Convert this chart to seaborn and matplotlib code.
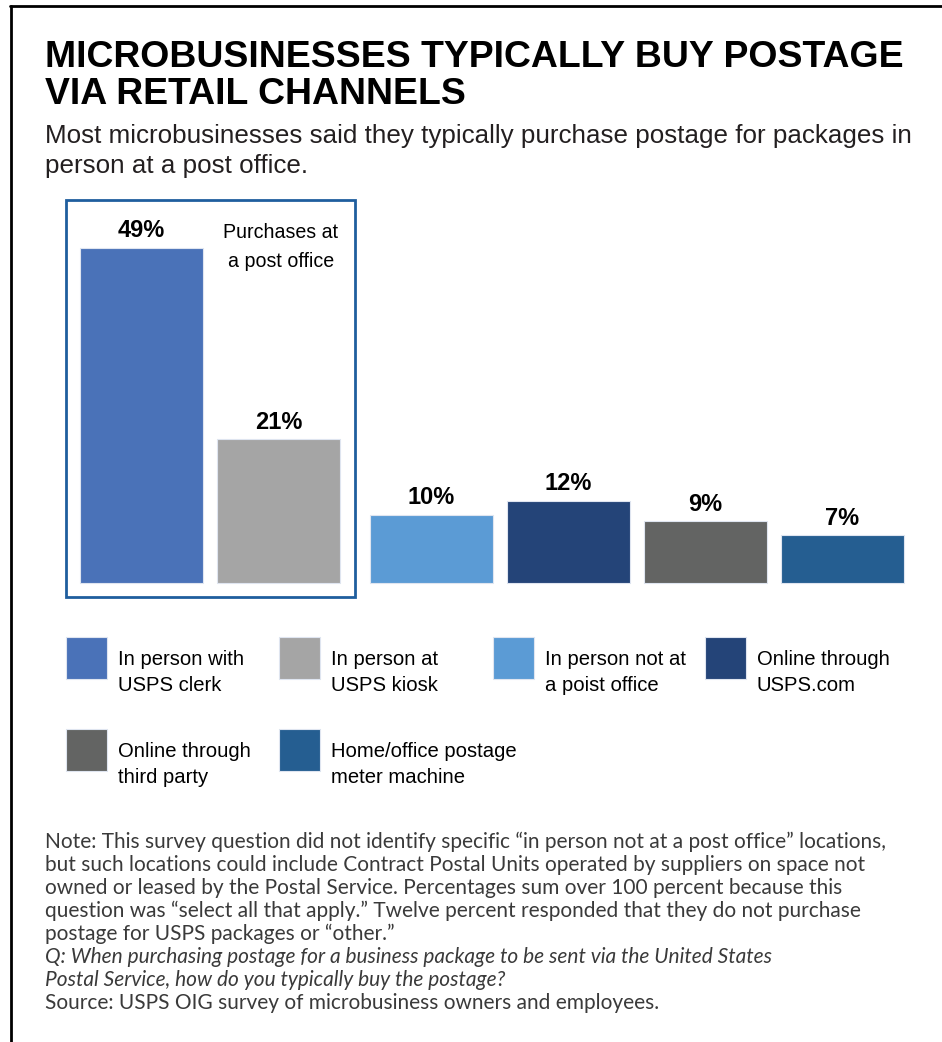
import numpy as np
import pandas as pd
import matplotlib
matplotlib.use("Agg")
import matplotlib.pyplot as plt
import seaborn as sns
from matplotlib.patches import Rectangle, Patch
from matplotlib.lines import Line2D
from matplotlib import font_manager as fm
from matplotlib.font_manager import FontProperties

# ---------------- data ----------------
categories = [
    "In person with\nUSPS clerk",
    "In person at\nUSPS kiosk",
    "In person not at\na poist office",
    "Online through\nUSPS.com",
    "Online through\nthird party",
    "Home/office postage\nmeter machine",
]
values = [49, 21, 10, 12, 9, 7]
colors = ["#4a72b8", "#a5a5a5", "#5b9bd5", "#244478", "#636463", "#255e91"]
group_label = "Purchases at\na post office"

title_lines = ["MICROBUSINESSES TYPICALLY BUY POSTAGE", "VIA RETAIL CHANNELS"]
subtitle_lines = [
    "Most microbusinesses said they typically purchase postage for packages in",
    "person at a post office.",
]
note_lines = [
    "Note: This survey question did not identify specific \u201cin person not at a post office\u201d locations,",
    "but such locations could include Contract Postal Units operated by suppliers on space not",
    "owned or leased by the Postal Service. Percentages sum over 100 percent because this",
    "question was \u201cselect all that apply.\u201d Twelve percent responded that they do not purchase",
    "postage for USPS packages or \u201cother.\u201d",
]
question_lines = [
    "Q: When purchasing postage for a business package to be sent via the United States",
    "Postal Service, how do you typically buy the postage?",
]
source_line = "Source: USPS OIG survey of microbusiness owners and employees."

# ---------------- setup ----------------
sns.set_theme(style="white")
names = {f.name for f in fm.fontManager.ttflist}
NARROW = "Liberation Sans Narrow" if "Liberation Sans Narrow" in names else "Liberation Sans"
NOTEF = "Lato" if "Lato" in names else "DejaVu Sans"
plt.rcParams["font.family"] = ["Liberation Sans", "DejaVu Sans"]

W, H = 942, 1042
fig = plt.figure(figsize=(W / 100, H / 100), dpi=100)
fig.patch.set_facecolor("white")


def fx(px):
    return px / W


def fy(py):
    return 1 - py / H


renderer = fig.canvas.get_renderer()


def fit(t, target_w):
    for _ in range(3):
        bb = t.get_window_extent(renderer)
        t.set_fontsize(t.get_fontsize() * target_w / bb.width)
    return t.get_fontsize()


# ---------------- frame lines ----------------
fig.add_artist(Line2D([fx(10), 1.0], [fy(6), fy(6)], transform=fig.transFigure,
                      color="black", lw=2.0))
fig.add_artist(Line2D([fx(11), fx(11)], [fy(6), 0.0], transform=fig.transFigure,
                      color="black", lw=2.0))

# ---------------- titles ----------------
t1 = fig.text(fx(45), fy(67), title_lines[0], fontsize=26, fontweight="bold",
              color="black", va="baseline", ha="left")
tfs = fit(t1, 858)
fig.text(fx(45), fy(104), title_lines[1], fontsize=tfs, fontweight="bold",
         color="black", va="baseline", ha="left")

s1 = fig.text(fx(45), fy(143), subtitle_lines[0], fontsize=20, family=NARROW,
              color="#231f20", va="baseline", ha="left")
sfs = fit(s1, 867)
fig.text(fx(45), fy(173), subtitle_lines[1], fontsize=sfs, family=NARROW,
         color="#231f20", va="baseline", ha="left")

# ---------------- bars ----------------
ax_left, ax_right, ax_top, ax_bottom = 66, 920, 200, 597
ax = fig.add_axes([fx(ax_left), fy(ax_bottom), (ax_right - ax_left) / W,
                   (ax_bottom - ax_top) / H])
unit_px = 137.0
ypx = 6.84
gap = 16 / unit_px
idx = np.arange(len(values))
pos = idx + np.where(idx >= 2, gap, 0.0)
df = pd.DataFrame({"pos": pos, "value": values, "category": categories})

sns.barplot(data=df, x="pos", y="value", hue="category", hue_order=categories,
            palette=colors, native_scale=True, width=123 / unit_px, dodge=False,
            legend=False, saturation=1, edgecolor="#dfe5f0", linewidth=0.8, ax=ax)

x0 = -(141.5 - ax_left) / unit_px
ax.set_xlim(x0, x0 + (ax_right - ax_left) / unit_px)
ax.set_ylim(-(ax_bottom - 583) / ypx, (583 - ax_top) / ypx)
ax.set_axis_off()

for c in ax.containers:
    ax.bar_label(c, labels=[f"{int(v)}%" for v in c.datavalues], padding=4,
                 fontsize=17, fontweight="bold", color="black")

# box around post-office group
box_right = (355 - ax_left) / (ax_right - ax_left)
ax.add_patch(Rectangle((0, 0), box_right, 1, transform=ax.transAxes, fill=False,
                       edgecolor="#1f5e9e", lw=2.0, clip_on=False))

gl = ax.text((281 - 141.5) / unit_px, (583 - 247) / ypx, group_label, ha="center",
             va="center", family=NARROW, fontsize=15, color="black",
             linespacing=1.7)
gfs = fit(gl, 109)
gl.set_fontsize(gfs * 1.05)

# ---------------- legend ----------------
probe = fig.text(0, 0, "In person with", family=NARROW, fontsize=16)
lfs = fit(probe, 116) * 1.08
probe.remove()
fs_px = lfs * 100 / 72
sw_w, sw_h = 41, 42
hh = (sw_h / fs_px - 0.245) / 0.65
text_drop_px = 16  # text sits lower than the swatch in the reference
handles = [Patch(facecolor=c, edgecolor="#dfe5f0", lw=0.8) for c in colors]
swatches = [(66, 637), (279, 637), (493, 637), (705, 637), (66, 729), (279, 729)]
for i, (sx, sy) in enumerate(swatches):
    leg = fig.legend(handles=[handles[i]], labels=[categories[i]], loc="upper left",
                     bbox_to_anchor=(fx(sx), fy(sy)), frameon=False,
                     borderpad=0, borderaxespad=0, handlelength=sw_w / fs_px,
                     handleheight=hh, handletextpad=11 / fs_px,
                     prop=FontProperties(family=NARROW, size=lfs))
    for t in leg.get_texts():
        t.set_linespacing(1.5)
        t.set_color("black")
    hp = leg.legend_handles[0]
    hp.set_y(hp.get_y() + text_drop_px * 72 / 100)
    # align the swatch's top-left corner with its target position
    fig.canvas.draw()
    bb = hp.get_window_extent(renderer)
    dx = sx - bb.x0
    dy = (H - sy) - bb.y1
    lb = leg.get_window_extent(renderer)
    leg.set_bbox_to_anchor(((lb.x0 + dx) / W, (lb.y1 + dy) / H), transform=fig.transFigure)

# ---------------- notes ----------------
n1 = fig.text(fx(45), fy(842), note_lines[0], family=NOTEF, fontsize=13,
              color="#3a3a3a", va="center", ha="left")
nfs = fit(n1, 839)
yy = 842
for line in note_lines[1:]:
    yy += 23
    fig.text(fx(45), fy(yy), line, family=NOTEF, fontsize=nfs, color="#3a3a3a",
             va="center", ha="left")
for line in question_lines:
    yy += 23
    fig.text(fx(45), fy(yy), line, family=NOTEF, fontsize=nfs, style="italic",
             color="#3a3a3a", va="center", ha="left")
yy += 23
fig.text(fx(45), fy(yy), source_line, family=NOTEF, fontsize=nfs, color="#3a3a3a",
         va="center", ha="left")

fig.savefig("out.png", dpi=100, facecolor="white")
